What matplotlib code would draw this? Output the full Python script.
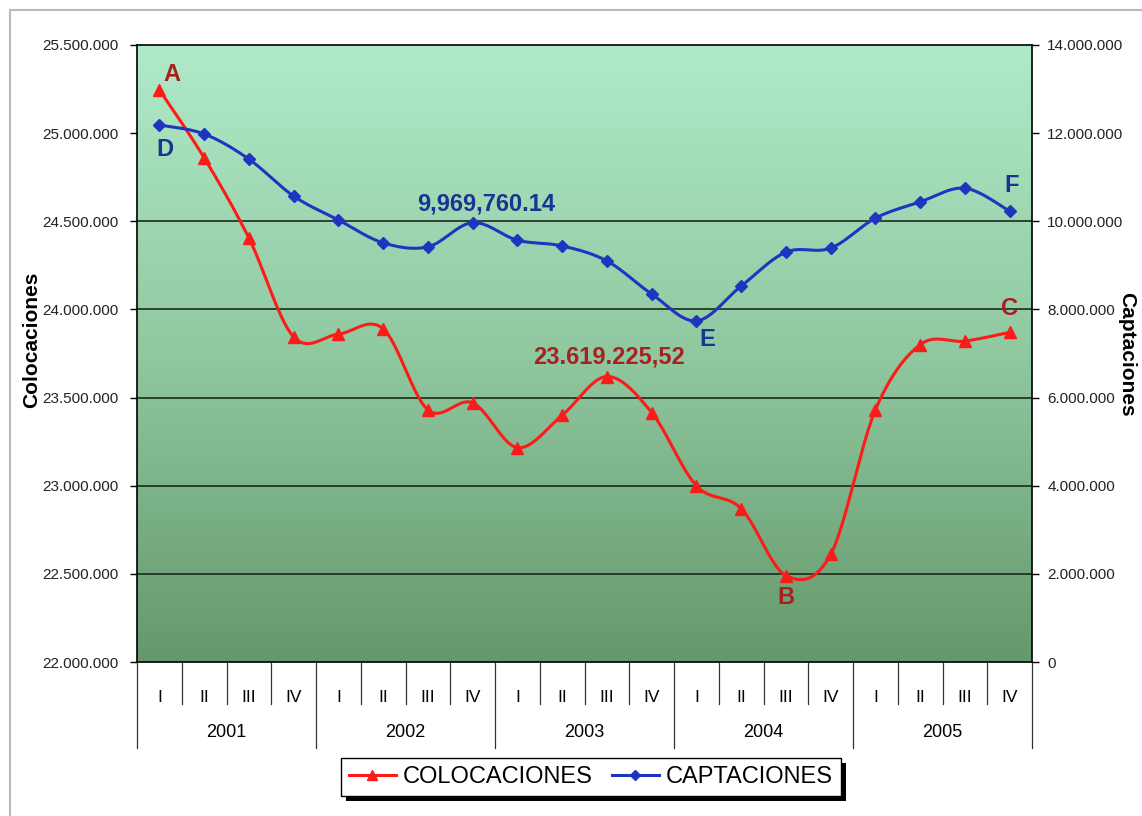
import numpy as np
import matplotlib
matplotlib.use('Agg')
import matplotlib.pyplot as plt
import matplotlib.transforms as mtransforms
from matplotlib.colors import LinearSegmentedColormap
from matplotlib.lines import Line2D
from matplotlib.patches import Rectangle

plt.rcParams['font.family'] = ['Liberation Sans', 'DejaVu Sans']

# quarterly series 2001-2005
quarters = ['I', 'II', 'III', 'IV'] * 5
years = ['2001', '2002', '2003', '2004', '2005']
colocaciones = [25245000, 24860000, 24405000, 23844000, 23860000, 23890000,
                23430000, 23470000, 23216000, 23400000, 23619225.52, 23415000,
                23000000, 22870000, 22490000, 22610000, 23430000, 23800000,
                23820000, 23870000]
captaciones = [12185000, 11980000, 11410000, 10570000, 10030000, 9510000,
               9420000, 9969760.14, 9570000, 9440000, 9100000, 8350000,
               7740000, 8530000, 9300000, 9390000, 10070000, 10440000,
               10750000, 10230000]
left_ticks = [22000000, 22500000, 23000000, 23500000, 24000000, 24500000, 25000000, 25500000]
right_ticks = [0, 2000000, 4000000, 6000000, 8000000, 10000000, 12000000, 14000000]
grid_vals = [22500000, 23000000, 23500000, 24000000, 24500000]

RED = '#ff1a1a'
BLUE = '#1f35c0'
DARKRED = '#a82020'
DARKBLUE = '#1a3490'


def smooth(vals, n=24):
    # bezier smoothing through every point (catmull-rom style)
    p = np.column_stack([np.arange(len(vals), dtype=float), np.asarray(vals, float)])
    pts = np.vstack([p[0], p, p[-1]])
    t = np.linspace(0, 1, n, endpoint=False)[:, None]
    out = []
    for i in range(1, len(pts) - 2):
        p0, p1, p2, p3 = pts[i - 1], pts[i], pts[i + 1], pts[i + 2]
        c1 = p1 + (p2 - p0) / 6
        c2 = p2 - (p3 - p1) / 6
        out.append((1 - t) ** 3 * p1 + 3 * (1 - t) ** 2 * t * c1
                   + 3 * (1 - t) * t ** 2 * c2 + t ** 3 * p2)
    out.append(p[-1][None, :])
    return np.vstack(out)


def fmt(v):
    return '{:,.0f}'.format(v).replace(',', '.')


def fmt_es(v):
    # 1.234.567,89 style
    return '{:,.2f}'.format(v).replace(',', ' ').replace('.', ',').replace(' ', '.')


fig = plt.figure(figsize=(11.42, 8.16), dpi=100)
ax = fig.add_axes([0.12, 0.1887, 0.7837, 0.7562])
x = np.arange(len(quarters))

# background gradient
bg = LinearSegmentedColormap.from_list('bg', ['#b0eac9', '#90c8a0', '#65996b'])
ax.imshow(np.linspace(0, 1, 256).reshape(-1, 1), cmap=bg, aspect='auto',
          extent=[0, 1, 0, 1], transform=ax.transAxes, zorder=0)

for g in grid_vals:
    ax.axhline(g, color='#1c2a1c', lw=1.2, zorder=1)

sc = smooth(colocaciones)
ax.plot(sc[:, 0], sc[:, 1], color=RED, lw=2.2, zorder=3)
ax.plot(x, colocaciones, ls='none', marker='^', ms=8, color=RED, zorder=4)

ax.set_xlim(-0.5, len(quarters) - 0.5)
ax.set_ylim(22000000, 25500000)
ax.set_yticks(left_ticks)
ax.set_yticklabels([fmt(v) for v in left_ticks], fontsize=11, color='#222222')
ax.set_xticks([])
ax.tick_params(axis='y', direction='out', length=5, width=1, pad=8)
for s in ax.spines.values():
    s.set_color('black')
    s.set_linewidth(1.2)

ax2 = ax.twinx()
cc = smooth(captaciones)
ax2.plot(cc[:, 0], cc[:, 1], color=BLUE, lw=2.2, zorder=3)
ax2.plot(x, captaciones, ls='none', marker='D', ms=6, color=BLUE, zorder=4)
ax2.set_ylim(0, 14000000)
ax2.set_yticks(right_ticks)
ax2.set_yticklabels([fmt(v) for v in right_ticks], fontsize=11, color='#222222')
ax2.tick_params(axis='y', direction='out', length=5, width=1, pad=6)
for s in ax2.spines.values():
    s.set_visible(False)

# axis titles
fig.text(32 / 1142, 1 - 340 / 816, 'Colocaciones', rotation=90, ha='center', va='center',
         fontsize=15, fontweight='bold')
fig.text(1127 / 1142, 1 - 354 / 816, 'Captaciones', rotation=270, ha='center', va='center',
         fontsize=15, fontweight='bold')

# point labels
kw = dict(textcoords='offset pixels', ha='center', va='center', fontsize=17, fontweight='bold')
ax.annotate('A', (0, colocaciones[0]), xytext=(12, 15), color=DARKRED, **kw)
ax.annotate('B', (14, colocaciones[14]), xytext=(0, -22), color=DARKRED, **kw)
ax.annotate('C', (19, colocaciones[19]), xytext=(0, 24), color=DARKRED, **kw)
ax.annotate(fmt_es(colocaciones[10]), (10, colocaciones[10]), xytext=(2, 20),
            color=DARKRED, **kw)
ax2.annotate('D', (0, captaciones[0]), xytext=(6, -25), color=DARKBLUE, **kw)
ax2.annotate('E', (12, captaciones[12]), xytext=(11, -19), color=DARKBLUE, **kw)
ax2.annotate('F', (19, captaciones[19]), xytext=(2, 26), color=DARKBLUE, **kw)
ax2.annotate('{:,.2f}'.format(captaciones[7]), (7, captaciones[7]), xytext=(13, 19),
             color=DARKBLUE, **kw)

# two-level category axis
tr = mtransforms.blended_transform_factory(ax.transData, ax.transAxes)
for i, q in enumerate(quarters):
    ax.text(i, -0.057, q, transform=tr, ha='center', va='center', fontsize=12.5)
for j, yr in enumerate(years):
    ax.text(j * 4 + 1.5, -0.115, yr, transform=tr, ha='center', va='center', fontsize=13)
for k in range(len(quarters) + 1):
    bottom = -0.139 if k % 4 == 0 else -0.068
    ax.plot([k - 0.5, k - 0.5], [0, bottom], transform=tr, color='#333333',
            lw=0.9, clip_on=False)

handles = [Line2D([], [], color=RED, lw=2.2, marker='^', ms=7),
           Line2D([], [], color=BLUE, lw=2.2, marker='D', ms=5)]
leg = fig.legend(handles, ['COLOCACIONES', 'CAPTACIONES'], loc='center',
                 bbox_to_anchor=(0.5175, 0.048), ncol=2, fontsize=17,
                 frameon=True, fancybox=False, edgecolor='black', framealpha=1,
                 handlelength=2.0, handletextpad=0.3, columnspacing=0.8, borderpad=0.35)
leg.get_frame().set_linewidth(1.0)

# drop shadow under the legend box
fig.canvas.draw()
bb = leg.get_window_extent().transformed(fig.transFigure.inverted())
fig.add_artist(Rectangle((bb.x0 + 5 / 1142, bb.y0 - 5 / 816), bb.width, bb.height,
                         transform=fig.transFigure, facecolor='black',
                         edgecolor='none', zorder=leg.get_zorder() - 1))

# thin page frame
fig.add_artist(Line2D([10 / 1142, 10 / 1142], [0, 1 - 10 / 816], transform=fig.transFigure,
                      color='#bbbbbb', lw=1.5))
fig.add_artist(Line2D([10 / 1142, 1], [1 - 10 / 816, 1 - 10 / 816], transform=fig.transFigure,
                      color='#bbbbbb', lw=1.5))

fig.savefig('out.png', dpi=100)
